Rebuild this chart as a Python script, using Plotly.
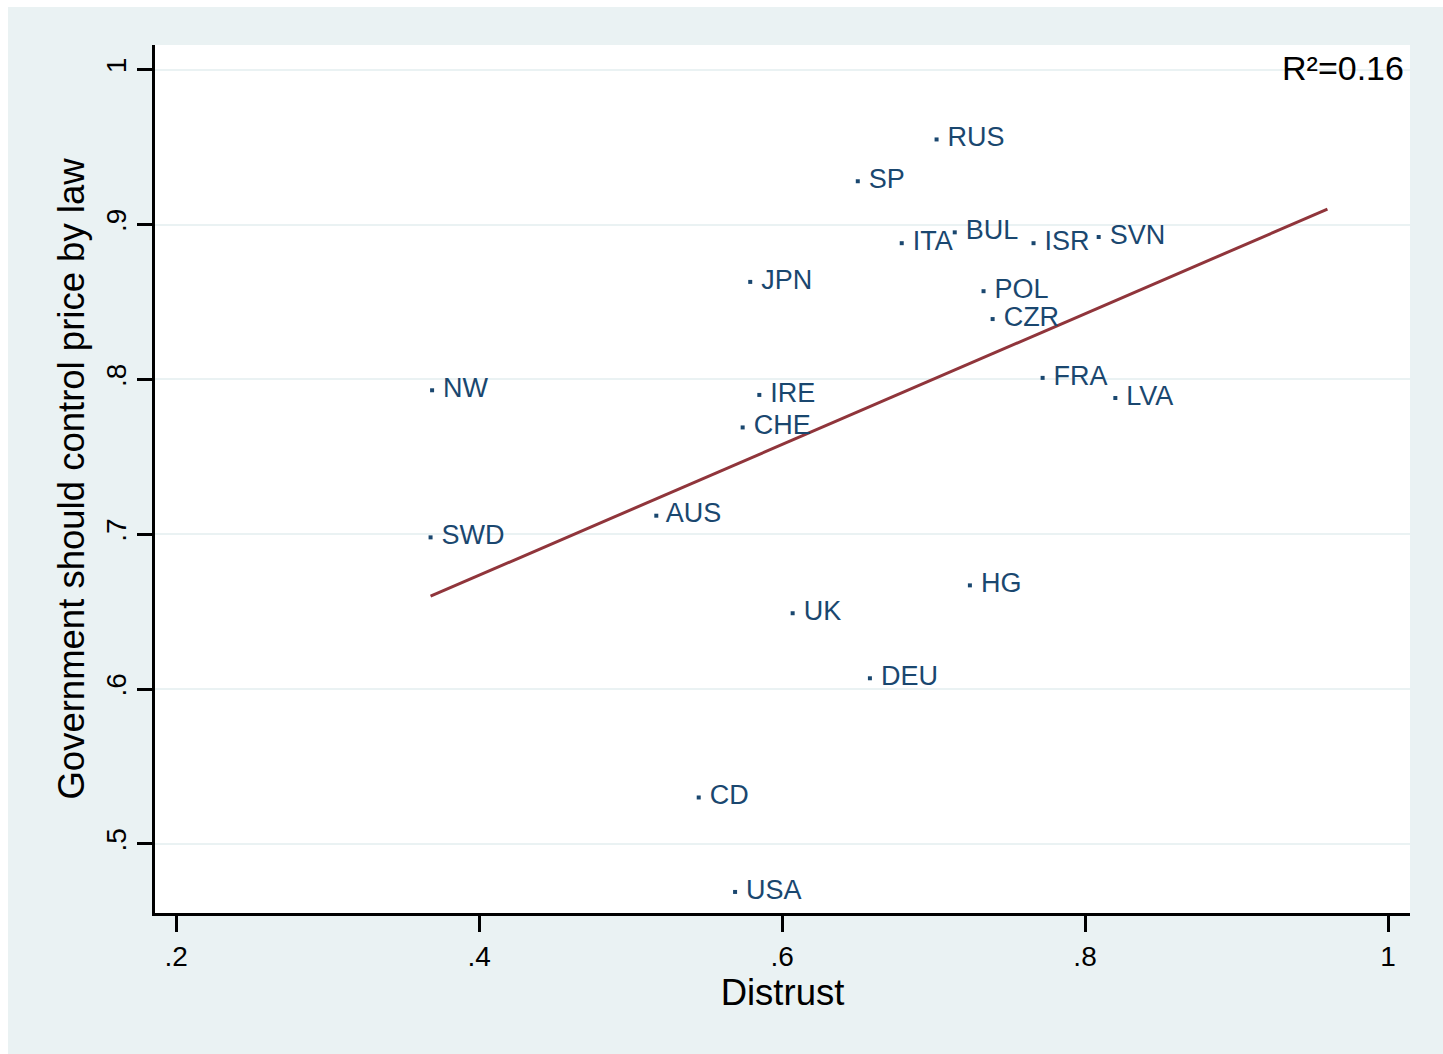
import plotly.graph_objects as go

countries = ["RUS", "SP", "ITA", "BUL", "ISR", "SVN", "JPN", "POL", "CZR", "FRA", "LVA",
             "NW", "IRE", "CHE", "AUS", "SWD", "HG", "UK", "DEU", "CD", "USA"]
distrust = [0.702, 0.650, 0.679, 0.714, 0.766, 0.809, 0.579, 0.733, 0.739, 0.772, 0.820,
            0.369, 0.585, 0.574, 0.517, 0.368, 0.724, 0.607, 0.658, 0.545, 0.569]
gov_control = [0.955, 0.928, 0.888, 0.895, 0.888, 0.892, 0.863, 0.857, 0.839, 0.801, 0.788,
               0.793, 0.790, 0.769, 0.712, 0.698, 0.667, 0.649, 0.607, 0.530, 0.469]

fit_x = [0.368, 0.960]
fit_y = [0.660, 0.910]

x_tickvals = [0.2, 0.4, 0.6, 0.8, 1.0]
x_ticktext = [".2", ".4", ".6", ".8", "1"]
y_tickvals = [0.5, 0.6, 0.7, 0.8, 0.9, 1.0]
y_ticktext = [".5", ".6", ".7", ".8", ".9", "1"]

NAVY = "#1a476f"
MAROON = "#90353b"
BG = "#eaf2f3"
FONT = "Liberation Sans, Arial, sans-serif"

fig = go.Figure()
fig.add_trace(go.Scatter(
    x=fit_x, y=fit_y, mode="lines",
    line=dict(color=MAROON, width=3), showlegend=False, hoverinfo="skip"))
fig.add_trace(go.Scatter(
    x=distrust, y=gov_control, mode="markers+text", text=countries,
    texttemplate=" %{text}",
    textposition="middle right",
    textfont=dict(family=FONT, size=27, color=NAVY),
    marker=dict(color=NAVY, size=4, symbol="square"),
    showlegend=False))

fig.add_annotation(
    text="R²=0.16", xref="paper", yref="paper", x=0.997, y=0.9735,
    xanchor="right", yanchor="middle", showarrow=False,
    font=dict(family=FONT, size=34, color="black"))

fig.update_xaxes(
    range=[0.1861, 1.0145], tickvals=x_tickvals, ticktext=x_ticktext,
    showgrid=False, zeroline=False, showline=True, linecolor="black", linewidth=3,
    ticks="outside", ticklen=16, tickwidth=3, tickcolor="black",
    tickfont=dict(family=FONT, size=28, color="black"),
    title=dict(text="Distrust", font=dict(family=FONT, size=36.5, color="black"), standoff=6))
fig.update_yaxes(
    range=[0.4554, 1.016], tickvals=y_tickvals, ticktext=y_ticktext, tickangle=-90,
    showgrid=True, gridcolor=BG, gridwidth=2, zeroline=False,
    showline=True, linecolor="black", linewidth=3,
    ticks="outside", ticklen=15, tickwidth=3, tickcolor="black",
    tickfont=dict(family=FONT, size=28, color="black"),
    title=dict(text="Government should control price by law",
               font=dict(family=FONT, size=36.5, color="black"), standoff=6))

fig.update_layout(
    width=1435, height=1047,
    margin=dict(l=147, r=33, t=38, b=141),
    paper_bgcolor=BG, plot_bgcolor="white",
    font=dict(family=FONT))

fig.write_html(
    "out.html",
    post_script="document.body.style.margin='7px 0 0 8px';"
                "document.body.style.overflow='hidden';"
                "document.documentElement.style.overflow='hidden';")
